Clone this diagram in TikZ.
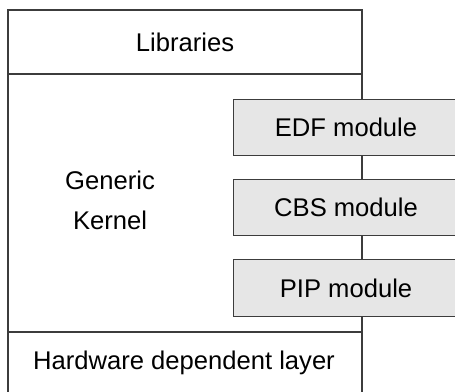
\documentclass[tikz,border=0pt]{standalone}
\usepackage{fontspec}
\setmainfont{Liberation Sans}
\definecolor{linecol}{HTML}{3C3C3C}
\definecolor{modfill}{HTML}{E6E6E6}
\begin{document}
\begin{tikzpicture}[x=1pt,y=-1pt,
  frame/.style={draw=linecol, line width=1.1pt},
  lbl/.style={font=\fontsize{25.6}{40}\selectfont, inner sep=0pt, align=center, text=black},
  modbox/.style={draw=linecol, fill=modfill, line width=1.1pt, minimum width=225pt,
    minimum height=56pt, inner sep=0pt, anchor=north west,
    font=\fontsize{25.6}{40}\selectfont}]
\useasboundingbox (0,0) rectangle (455,391);
\clip (0,0) rectangle (455,391);
% outer frame
\coordinate (tl) at (8,10);
\coordinate (tr) at (362,10);
\coordinate (bl) at (8,396);
\coordinate (br) at (362,396);
\coordinate (l1) at (8,74);
\coordinate (r1) at (362,74);
\coordinate (l2) at (8,332);
\coordinate (r2) at (362,332);
\draw[frame] (bl) -- (tl) -- (tr) -- (br);
\draw[frame] (l1) -- (r1);
\draw[frame] (l2) -- (r2);
% texts
\node[lbl] (lib) at (185,42) {Libraries};
\node[lbl] (gen) at (110,200) {Generic\\Kernel};
\node[lbl] (hw) at (184,363) {Hardware dependent layer};
% modules
\node[modbox] (edf) at (233,99) {EDF module};
\node[modbox] (cbs) at (233,179) {CBS module};
\node[modbox, minimum height=57pt] (pip) at (233,259) {PIP module};
\end{tikzpicture}
\end{document}
